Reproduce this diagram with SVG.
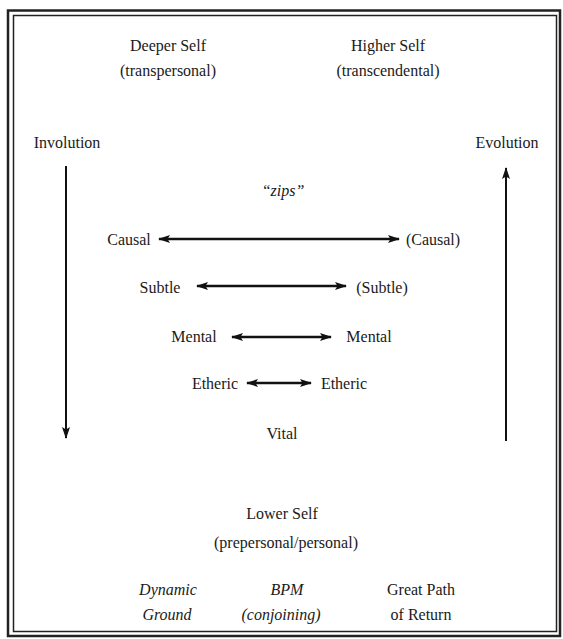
<svg xmlns="http://www.w3.org/2000/svg" width="563" height="639" viewBox="0 0 563 639">
<defs>
<marker id="ah" viewBox="0 0 12 8" refX="11" refY="4" markerWidth="12" markerHeight="8" markerUnits="userSpaceOnUse" orient="auto-start-reverse">
<path d="M0,0 L12,4 L0,8 L2.5,4 Z" fill="#111"/>
</marker>
</defs>
<style>
text{font-family:"Liberation Serif","Times New Roman",serif;font-size:16px;fill:#1a1a1a;text-anchor:middle}
.it{font-style:italic}
.frame{fill:none;stroke:#222}
.conn line{stroke:#111;stroke-width:2.5}
.conn line.v{stroke-width:2}
</style>
<rect width="563" height="639" fill="#fff"/>
<rect class="frame" x="8" y="10.5" width="552" height="625.5" stroke-width="2.5"/>
<rect class="frame" x="13.5" y="15.5" width="543" height="616" stroke-width="1.5"/>
<g id="deeper"><text x="168" y="51">Deeper Self</text><text x="168" y="76">(transpersonal)</text></g>
<g id="higher"><text x="388" y="51">Higher Self</text><text x="388" y="76">(transcendental)</text></g>
<g id="involution"><text x="67" y="148">Involution</text></g>
<g id="evolution"><text x="507" y="148">Evolution</text></g>
<g id="zips"><text class="it" x="283" y="196">“zips”</text></g>
<g id="causal-l"><text x="129" y="245">Causal</text></g>
<g id="causal-r"><text x="433" y="245">(Causal)</text></g>
<g id="subtle-l"><text x="160" y="293">Subtle</text></g>
<g id="subtle-r"><text x="382" y="293">(Subtle)</text></g>
<g id="mental-l"><text x="194" y="342">Mental</text></g>
<g id="mental-r"><text x="369" y="342">Mental</text></g>
<g id="etheric-l"><text x="215" y="389">Etheric</text></g>
<g id="etheric-r"><text x="344" y="389">Etheric</text></g>
<g id="vital"><text x="282" y="439">Vital</text></g>
<g id="lower"><text x="282" y="519">Lower Self</text><text x="286" y="548">(prepersonal/personal)</text></g>
<g id="dynamic"><text class="it" x="168" y="595">Dynamic</text><text class="it" x="167" y="620">Ground</text></g>
<g id="bpm"><text class="it" x="287" y="595">BPM</text><text class="it" x="281" y="620">(conjoining)</text></g>
<g id="greatpath"><text x="421" y="595">Great Path</text><text x="421" y="620">of Return</text></g>
<g id="connectors" class="conn">
<line class="v" x1="66" y1="166" x2="66" y2="438" marker-end="url(#ah)"/>
<line class="v" x1="506" y1="441" x2="506" y2="168" marker-end="url(#ah)"/>
<line x1="159" y1="239" x2="399" y2="239" marker-start="url(#ah)" marker-end="url(#ah)"/>
<line x1="197" y1="286" x2="346" y2="286" marker-start="url(#ah)" marker-end="url(#ah)"/>
<line x1="232" y1="337" x2="331" y2="337" marker-start="url(#ah)" marker-end="url(#ah)"/>
<line x1="247" y1="383" x2="311" y2="383" marker-start="url(#ah)" marker-end="url(#ah)"/>
</g>
</svg>
